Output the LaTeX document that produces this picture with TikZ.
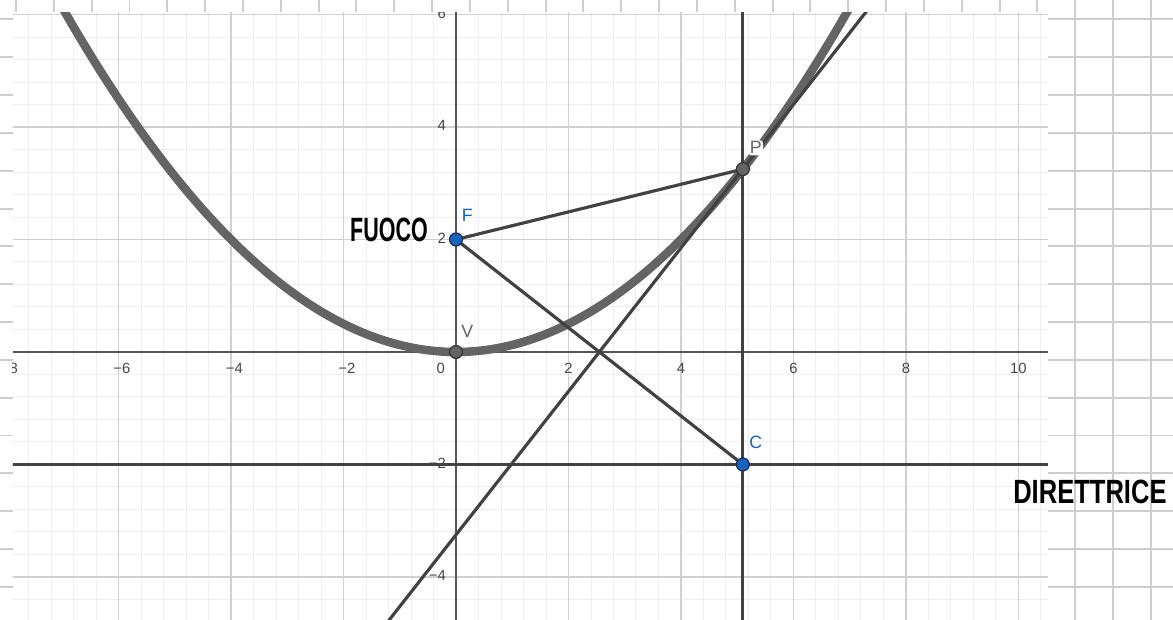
\documentclass[tikz,border=0pt]{standalone}
\usepackage{fontspec}
\setmainfont{Liberation Sans}
\definecolor{bgline}{RGB}{205,205,205}
\definecolor{minorc}{RGB}{238,238,238}
\definecolor{majorc}{RGB}{208,208,208}
\definecolor{axisc}{RGB}{85,85,85}
\definecolor{linec}{RGB}{66,66,66}
\definecolor{conicc}{RGB}{100,100,100}
\definecolor{ptblue}{RGB}{21,101,192}
\definecolor{ptblueedge}{RGB}{25,45,80}
\definecolor{ptgray}{RGB}{100,100,100}
\definecolor{ticktext}{RGB}{70,70,70}
\begin{document}
\begin{tikzpicture}[x=1cm,y=1cm,
  bggrid/.style={draw=bgline, line width=1pt},
  minorgrid/.style={draw=minorc, line width=0.5pt},
  majorgrid/.style={draw=majorc, line width=0.6pt},
  axisline/.style={draw=axisc, line width=0.8pt},
  geoline/.style={draw=linec, line width=1.6pt},
  conic/.style={draw=conicc, line width=4.3pt},
  bluept/.style={circle, fill=ptblue, draw=ptblueedge, line width=0.6pt, inner sep=0pt, minimum size=0.23cm},
  graypt/.style={circle, fill=ptgray, draw=black!80, line width=0.6pt, inner sep=0pt, minimum size=0.23cm},
  ticklbl/.style={font=\fontsize{7.5}{9}\selectfont, text=ticktext, inner sep=1pt},
  ptlbl/.style={font=\fontsize{9}{11}\selectfont, inner sep=0pt},
  hand/.style={font=\bfseries\fontsize{17}{20}\selectfont, text=black, inner sep=0pt}
]
\useasboundingbox (-8.107,-4.764) rectangle (12.747,6.258);
\fill[white] (-8.107,-4.764) rectangle (12.747,6.258);
% notebook grid behind the screenshot
\foreach \k in {0,...,30} \draw[bggrid] ({-7.822+0.6725*\k},-4.764) -- ++(0,11.022);
\foreach \k in {0,...,16} \draw[bggrid] (-8.107,{5.913-0.6725*\k}) -- ++(20.854,0);
% GeoGebra view
\coordinate (gbl) at (-7.876,-4.764);
\coordinate (gtr) at (10.524,6.044);
\fill[white] (gbl) rectangle (gtr);
\begin{scope}
\clip (gbl) rectangle (gtr);
\foreach \i in {-20,...,27} \draw[minorgrid] ({0.4*\i},-5) -- ({0.4*\i},6.3);
\foreach \j in {-12,...,16} \draw[minorgrid] (-8,{0.4*\j}) -- (10.8,{0.4*\j});
\foreach \i in {-4,...,5} \draw[majorgrid] ({2*\i},-5) -- ({2*\i},6.3);
\foreach \j in {-2,...,3} \draw[majorgrid] (-8,{2*\j}) -- (10.8,{2*\j});
\coordinate (xa1) at (-8,0);
\coordinate (xa2) at (10.8,0);
\coordinate (ya1) at (0,-5);
\coordinate (ya2) at (0,6.3);
\draw[axisline] (xa1) -- (xa2);
\draw[axisline] (ya1) -- (ya2);
\foreach \v/\t in {-8/−8,-6/−6,-4/−4,-2/−2}
  \node[ticklbl] (xt\v) at (\v+0.06,-0.284) {\t};
\foreach \v/\t in {2/2,4/4,6/6,8/8,10/10}
  \node[ticklbl] (xt\v) at (\v,-0.284) {\t};
\node[ticklbl] (xt0) at (-0.27,-0.284) {0};
% parabola
\draw[conic] plot[domain=-7.3:7.3, samples=120] (\x,{\x*\x/8});
% lines
\coordinate (T1) at (-1.216,-4.8);
\coordinate (T2) at (7.333,6.1);
\coordinate (D1) at (-8,-2);
\coordinate (D2) at (10.8,-2);
\coordinate (L1) at (5.1,-5);
\coordinate (L2) at (5.1,6.3);
\draw[geoline] (T1) -- (T2);
\draw[geoline] (D1) -- (D2);
\draw[geoline] (L1) -- (L2);
\coordinate (Fc) at (0,2);
\coordinate (Pc) at (5.1,3.251);
\coordinate (Cc) at (5.1,-2);
\draw[geoline] (Fc) -- (Pc);
\draw[geoline] (Fc) -- (Cc);
\foreach \v/\t in {-4/−4,-2/−2,2/2,4/4,6/6}
  \node[ticklbl, anchor=east] (yt\v) at (-0.14,\v+0.02) {\t};
\end{scope}
% points
\node[bluept] (F) at (0,2) {};
\node[graypt] (V) at (0,0) {};
\node[graypt] (P) at (5.1,3.251) {};
\node[bluept] (C) at (5.1,-2) {};
\node[ptlbl, text=ptblue] (Flbl) at (0.2,2.42) {F};
\node[ptlbl, text=ptgray] (Vlbl) at (0.2,0.36) {V};
\node[ptlbl, text=ptgray, fill=white, rounded corners=1.5pt, inner sep=0.7pt] (Plbl) at (5.33,3.63) {P};
\node[ptlbl, text=ptblue] (Clbl) at (5.33,-1.6) {C};
% handwritten notes
\node[hand] (fuoco) at (-1.19,2.17) {\scalebox{0.64}[1]{FUOCO}};
\node[hand] (dir) at (11.27,-2.49) {\scalebox{0.76}[1]{DIRETTRICE}};
\end{tikzpicture}
\end{document}
